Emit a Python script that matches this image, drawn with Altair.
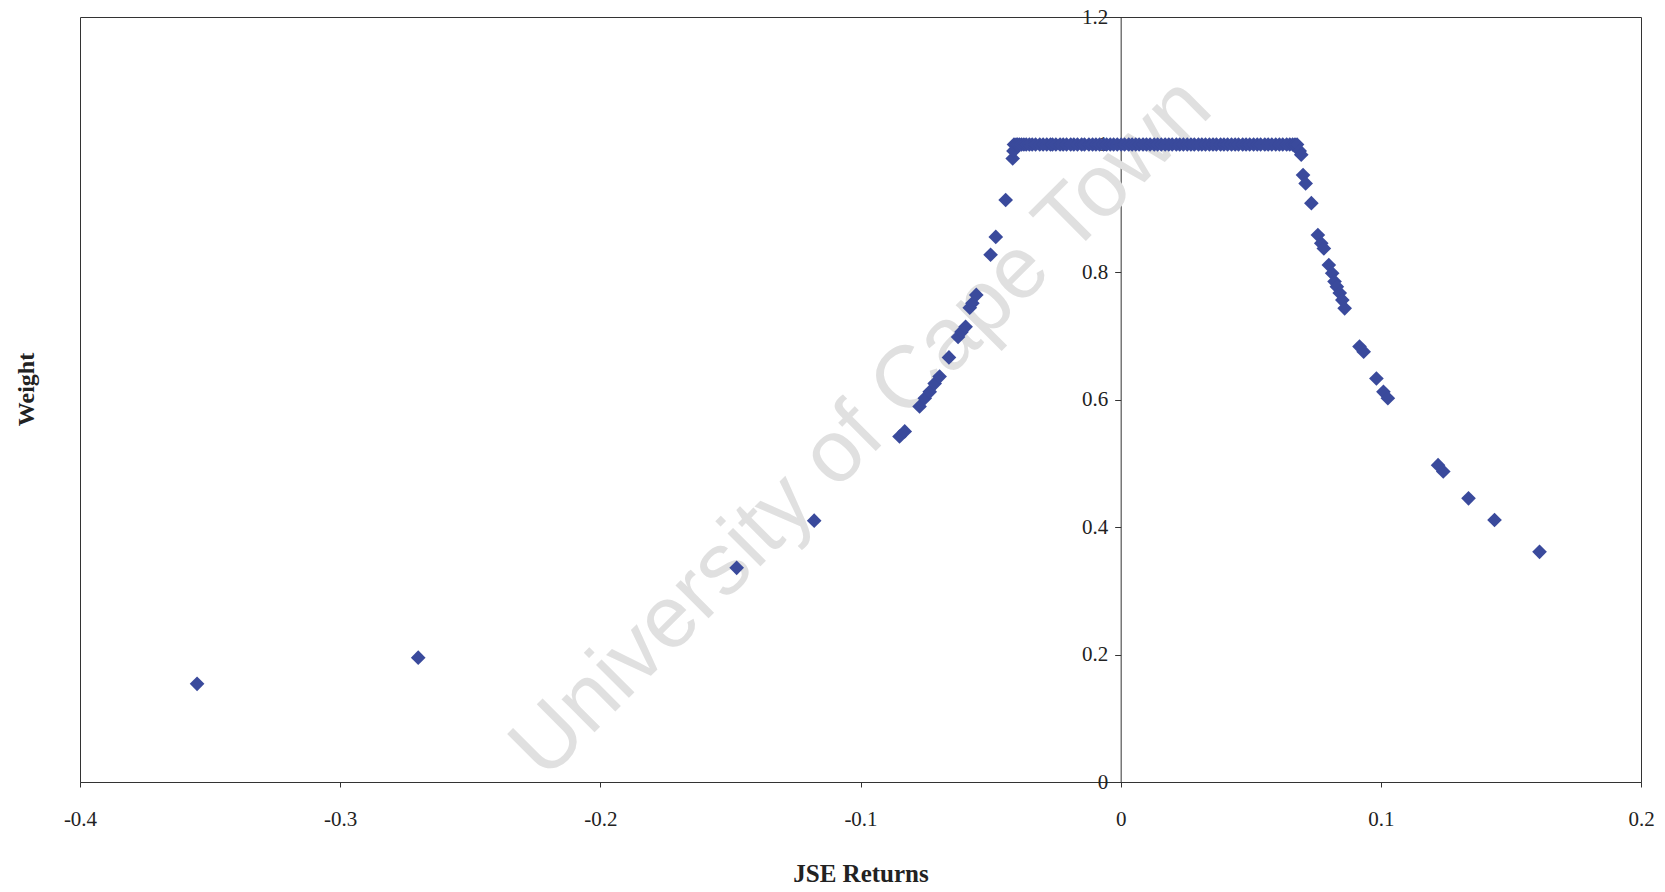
import altair as alt
import pandas as pd

# ---- data ----
tail_x = [-0.355, -0.270, -0.1476, -0.1178]
tail_y = [0.154, 0.195, 0.336, 0.410]

rise_x = [-0.085, -0.083, -0.0773, -0.0753, -0.0734, -0.0715, -0.0696, -0.066,
          -0.0625, -0.0612, -0.0596, -0.058, -0.057, -0.0555, -0.050, -0.048,
          -0.0442, -0.0415, -0.0412]
rise_y = [0.542, 0.550, 0.589, 0.602, 0.612, 0.625, 0.636, 0.666,
          0.698, 0.706, 0.714, 0.744, 0.751, 0.764, 0.827, 0.855,
          0.913, 0.978, 0.990]

plateau_x = [-0.0410, -0.0402, -0.0396, -0.0389, -0.0381, -0.0372, -0.0363, -0.0351,
             -0.0340, -0.0327, -0.0311, -0.0298, -0.0284, -0.0270, -0.0262, -0.0249,
             -0.0233, -0.0221, -0.0208, -0.0192, -0.0180, -0.0166, -0.0150, -0.0139,
             -0.0122, -0.0108, -0.0095, -0.0081, -0.0066, -0.0054, -0.0040, -0.0027,
             -0.0013, 0.0002, 0.0015, 0.0031, 0.0044, 0.0058, 0.0071, 0.0086,
             0.0099, 0.0113, 0.0129, 0.0142, 0.0156, 0.0171, 0.0185, 0.0198,
             0.0214, 0.0227, 0.0241, 0.0256, 0.0270, 0.0283, 0.0299, 0.0312,
             0.0326, 0.0341, 0.0355, 0.0368, 0.0384, 0.0397, 0.0411, 0.0426,
             0.0440, 0.0453, 0.0469, 0.0482, 0.0496, 0.0511, 0.0525, 0.0538,
             0.0554, 0.0567, 0.0581, 0.0596, 0.0610, 0.0623, 0.0638, 0.0650,
             0.0661, 0.0670, 0.0678]
plateau_y = [1.0, 1.0, 1.0, 1.0, 1.0, 1.0, 1.0, 1.0,
             1.0, 1.0, 1.0, 1.0, 1.0, 1.0, 1.0, 1.0,
             1.0, 1.0, 1.0, 1.0, 1.0, 1.0, 1.0, 1.0,
             1.0, 1.0, 1.0, 1.0, 1.0, 1.0, 1.0, 1.0,
             1.0, 1.0, 1.0, 1.0, 1.0, 1.0, 1.0, 1.0,
             1.0, 1.0, 1.0, 1.0, 1.0, 1.0, 1.0, 1.0,
             1.0, 1.0, 1.0, 1.0, 1.0, 1.0, 1.0, 1.0,
             1.0, 1.0, 1.0, 1.0, 1.0, 1.0, 1.0, 1.0,
             1.0, 1.0, 1.0, 1.0, 1.0, 1.0, 1.0, 1.0,
             1.0, 1.0, 1.0, 1.0, 1.0, 1.0, 1.0, 1.0,
             1.0, 1.0, 1.0]

fall_x = [0.0688, 0.0694, 0.0701, 0.0711, 0.0733, 0.0758, 0.0771, 0.0781,
          0.0800, 0.0813, 0.0822, 0.0831, 0.0842, 0.0852, 0.0861, 0.0918,
          0.0934, 0.0983, 0.1010, 0.1027, 0.122, 0.124, 0.1337, 0.1437, 0.161]
fall_y = [0.990, 0.984, 0.952, 0.939, 0.908, 0.858, 0.845, 0.837,
          0.811, 0.798, 0.785, 0.777, 0.767, 0.756, 0.743, 0.683,
          0.675, 0.633, 0.612, 0.602, 0.497, 0.487, 0.445, 0.411, 0.361]

x_ticks = [-0.4, -0.3, -0.2, -0.1, 0.0, 0.1, 0.2]
y_ticks = [0.0, 0.2, 0.4, 0.6, 0.8, 1.0, 1.2]

watermark_text = ["University of Cape Town"]
watermark_x = [-0.0995]
watermark_y = [0.555]

# ---- build table ----
df = pd.DataFrame({
    "JSE Returns": tail_x + rise_x + plateau_x + fall_x,
    "Weight": tail_y + rise_y + plateau_y + fall_y,
})
wm = pd.DataFrame({"t": watermark_text, "x": watermark_x, "y": watermark_y})

W, H = 1561, 765
zero_px = W * 0.4 / 0.6

serif = "Liberation Serif"
label_expr = "replace(format(datum.value, '~g'), '\u2212', '-')"

xscale = alt.Scale(domain=[-0.4, 0.2], nice=False, zero=False)
yscale = alt.Scale(domain=[0, 1.2], nice=False)

xaxis = alt.Axis(
    values=x_ticks, grid=False, title="JSE Returns",
    labelFont=serif, labelFontSize=21, labelColor="#222", labelPadding=21,
    labelExpr=label_expr, labelFlush=False,
    tickSize=5, tickColor="#333", domainColor="#333",
    titleFont=serif, titleFontSize=25, titleFontWeight="bold", titleColor="#222",
    titleY=91, titleBaseline="middle",
)
yaxis = alt.Axis(
    values=y_ticks, grid=False, title="Weight", orient="left", offset=-zero_px,
    labelFont=serif, labelFontSize=21, labelColor="#222", labelPadding=7,
    labelExpr=label_expr, labelFlush=False,
    tickSize=6, tickColor="#333", domainColor="#333",
    titleFont=serif, titleFontSize=24, titleFontWeight="bold", titleColor="#222",
    titleX=-(zero_px + 80 - 26), titleY=372, titleAngle=270,
    titleAlign="center", titleBaseline="middle",
)

watermark = alt.Chart(wm).mark_text(
    font="Liberation Sans", fontSize=88, color="#e0e0e0", angle=315,
    align="center", baseline="middle",
).encode(
    x=alt.X("x:Q", scale=xscale, axis=xaxis),
    y=alt.Y("y:Q", scale=yscale, axis=yaxis),
    text="t:N",
)

points = alt.Chart(df).mark_point(
    shape="diamond", filled=True, size=215, color="#3a4a9c", opacity=1,
).encode(
    x=alt.X("JSE Returns:Q", scale=xscale, axis=xaxis),
    y=alt.Y("Weight:Q", scale=yscale, axis=yaxis),
)

chart = alt.layer(watermark, points).properties(
    width=W, height=H,
    autosize=alt.AutoSizeParams(type="none"),
    padding={"left": 80, "top": 17, "right": 24, "bottom": 110},
    background="white",
).configure_view(
    stroke="#333", strokeWidth=1,
)

chart.save("out.html", embed_options={"renderer": "svg", "actions": False})
